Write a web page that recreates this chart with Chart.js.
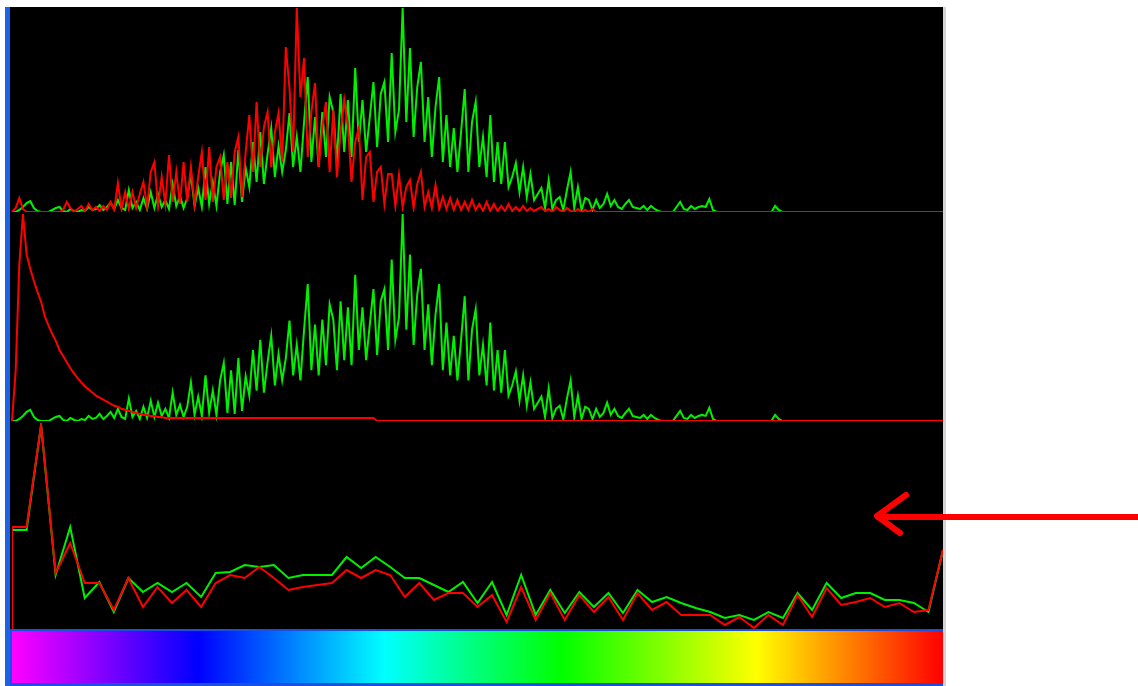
<!DOCTYPE html>
<html><head><meta charset="utf-8">
<script src="https://cdn.jsdelivr.net/npm/chart.js@4.4.1/dist/chart.umd.min.js"></script>
<style>
html,body{margin:0;padding:0;background:#fff;width:1138px;height:686px;overflow:hidden;}
body{position:relative;}
#leftbar{position:absolute;left:5px;top:7px;width:5px;height:679px;background:#1a62e8;}
#plot{position:absolute;left:10px;top:7px;width:933px;height:623px;background:#000;}
#plot canvas{position:absolute;left:0;}
#rightedge{position:absolute;left:943px;top:7px;width:3px;height:679px;background:#d4d4d4;}
#hueframe{position:absolute;left:10px;top:629px;width:933px;height:57px;background:#1a4fe0;}
#hue{position:absolute;left:12px;top:631px;width:931px;height:52px;
 background:linear-gradient(to right,#ff00ff 0%,#0000ff 20%,#00ffff 40%,#00ff00 59%,#ffff00 80%,#ff0000 100%);}
#arrow{position:absolute;left:0;top:0;}
</style></head>
<body>
<div id="leftbar"></div>
<div id="plot">
  <canvas id="c1" width="933" height="207" style="top:0px"></canvas>
  <canvas id="c2" width="933" height="209" style="top:207px"></canvas>
  <canvas id="c3" width="933" height="207" style="top:416px"></canvas>
</div>
<div id="rightedge"></div>
<div id="hueframe"></div>
<div id="hue"></div>
<svg id="arrow" width="1138" height="686">
  <g stroke="#ff0000" fill="none" stroke-linecap="round" stroke-linejoin="round">
    <line x1="878" y1="517" x2="1138" y2="517" stroke-width="6"/>
    <polyline points="906,495 877,516 900,533" stroke-width="6"/>
  </g>
</svg>
<script>
// 256-level histogram bins
const binLabels = Array.from({length: 256}, (_, i) => i);

// Panel 1 & 2: green channel histogram
const greenHist = [
 0,0,2,5,9,11,4,1,0,0,0,2,4,5,1,0,
 3,1,0,2,1,5,2,3,7,2,5,9,3,12,4,2,
 22,4,10,2,14,3,20,4,18,5,12,3,28,6,16,4,
 14,38,6,24,5,45,8,30,6,40,57,8,50,7,62,10,
 44,25,70,30,80,28,58,84,35,66,40,62,99,45,75,40,
 90,135,50,95,45,100,55,115,100,50,118,60,112,55,144,70,
 112,60,95,130,65,118,130,70,159,80,102,204,90,164,75,125,
 150,70,115,55,105,135,50,97,45,84,40,80,123,40,90,110,
 45,75,35,97,30,70,28,70,25,35,49,20,45,15,38,12,
 18,24,4,32,3,12,15,2,22,40,4,25,2,14,12,2,
 12,4,8,18,6,12,5,3,8,12,5,4,3,6,2,6,
 3,1,0,0,0,0,5,10,3,2,6,3,5,6,5,13,
 2,0,0,0,0,0,0,0,0,0,0,0,0,0,0,0,
 0,6,2,0,0,0,0,0,0,0,0,0,0,0,0,0,
 0,0,0,0,0,0,0,0,0,0,0,0,0,0,0,0,
 0,0,0,0,0,0,0,0,0,0,0,0,0,0,0,0
];

// Panel 1: red channel histogram
const redHist = [
 0,4,14,3,0,0,0,0,0,0,0,0,0,0,2,10,
 4,0,3,6,1,8,2,5,1,6,2,10,2,29,3,20,
 3,20,4,18,30,5,40,50,6,35,8,57,10,40,8,50,
 10,45,8,35,60,12,65,10,45,55,12,50,14,60,75,15,
 60,97,40,110,45,85,100,45,80,99,50,165,124,60,204,115,
 154,55,100,129,45,85,110,40,102,35,80,112,86,30,70,84,
 12,55,60,10,40,45,8,38,38,6,37,5,25,32,4,28,
 40,5,20,4,27,3,15,3,14,2,12,2,10,2,12,2,
 8,1,10,1,8,1,6,1,8,1,5,1,6,1,4,1,
 3,5,1,3,0,5,2,0,4,1,0,3,0,2,0,3,
 0,0,0,0,0,0,0,0,0,0,0,0,0,0,0,0,
 0,0,0,0,0,0,0,0,0,0,0,0,0,0,0,0,
 0,0,0,0,0,0,0,0,0,0,0,0,0,0,0,0,
 0,0,0,0,0,0,0,0,0,0,0,0,0,0,0,0,
 0,0,0,0,0,0,0,0,0,0,0,0,0,0,0,0,
 0,0,0,0,0,0,0,0,0,0,0,0,0,0,0,0
];

// Panel 2: red decay curve
const redDecay = [
 0,49,154,204,164,150,138,127,117,103,94,86,79,70,64,58,
 52,47,42,38,34,31,28,25,23,21,19,17,15,14,12,11,
 10,9,8,7,6,6,5,5,4,4,3,3,3,3,3,3,
 3,3,3,3,3,3,3,3,3,3,3,3,3,3,3,3,
 3,3,3,3,3,3,3,3,3,3,3,3,3,3,3,3,
 3,3,3,3,3,3,3,3,3,3,3,3,3,3,3,3,
 3,3,3,3,0,0,0,0,0,0,0,0,0,0,0,0,
 0,0,0,0,0,0,0,0,0,0,0,0,0,0,0,0,
 0,0,0,0,0,0,0,0,0,0,0,0,0,0,0,0,
 0,0,0,0,0,0,0,0,0,0,0,0,0,0,0,0,
 0,0,0,0,0,0,0,0,0,0,0,0,0,0,0,0,
 0,0,0,0,0,0,0,0,0,0,0,0,0,0,0,0,
 0,0,0,0,0,0,0,0,0,0,0,0,0,0,0,0,
 0,0,0,0,0,0,0,0,0,0,0,0,0,0,0,0,
 0,0,0,0,0,0,0,0,0,0,0,0,0,0,0,0,
 0,0,0,0,0,0,0,0,0,0,0,0,0,0,0,0
];

// Panel 3: per-hue curves (65 steps)
const p3Steps = Array.from({length: 65}, (_, k) => k);
const p3RedStart = 0;
const p3GreenStart = 52;
const p3Red = [
 103,103,205,57,87,47,47,20,52,23,
 43,27,40,23,47,55,52,63,52,40,
 43,45,47,60,52,60,55,33,47,30,
 37,37,23,35,8,43,10,37,10,35,
 18,33,10,37,20,28,15,15,15,5,
 13,2,15,5,35,13,42,25,28,32,
 23,27,18,20,80
];
const p3Green = [
 100,100,205,55,103,32,48,18,52,38,
 47,38,47,33,57,58,65,63,65,52,
 55,55,55,73,62,73,63,52,52,45,
 38,48,27,48,15,55,15,40,17,38,
 23,37,17,40,28,33,27,22,18,12,
 15,10,18,12,37,20,47,32,37,37,
 30,30,27,18,80
];

const RED = '#ff0000', GREEN = '#00f000';

function baseOpts(yMax, pad, xScale) {
  return {
    responsive: false, animation: false, events: [],
    layout: {padding: pad},
    plugins: {legend: {display: false}, tooltip: {enabled: false}},
    elements: {line: {borderWidth: 2, tension: 0}, point: {radius: 0}},
    scales: {x: xScale, y: {display: false, min: 0, max: yMax}}
  };
}

new Chart(document.getElementById('c1'), {
  type: 'line',
  data: {labels: binLabels, datasets: [
    {data: redHist, borderColor: RED, order: 0},
    {data: greenHist, borderColor: GREEN, order: 1}
  ]},
  options: baseOpts(204, {left: 2, right: 0, top: 1, bottom: 2}, {display: false, offset: false})
});

new Chart(document.getElementById('c2'), {
  type: 'line',
  data: {labels: binLabels, datasets: [
    {data: redDecay, borderColor: RED, order: 0},
    {data: greenHist, borderColor: GREEN, order: 1}
  ]},
  options: baseOpts(204, {left: 2, right: 0, top: 0, bottom: 2}, {display: false, offset: false})
});

const redPts = [{x: p3Steps[0], y: p3RedStart}].concat(p3Steps.map((k, i) => ({x: k, y: p3Red[i]})));
const greenPts = [{x: p3Steps[0], y: p3GreenStart}].concat(p3Steps.map((k, i) => ({x: k, y: p3Green[i]})));

new Chart(document.getElementById('c3'), {
  type: 'line',
  data: {datasets: [
    {data: redPts, borderColor: RED, order: 0},
    {data: greenPts, borderColor: GREEN, order: 1}
  ]},
  options: baseOpts(207, {left: 2, right: 0, top: 0, bottom: 0},
    {type: 'linear', display: false, min: 0, max: 64})
});
</script>
</body></html>
